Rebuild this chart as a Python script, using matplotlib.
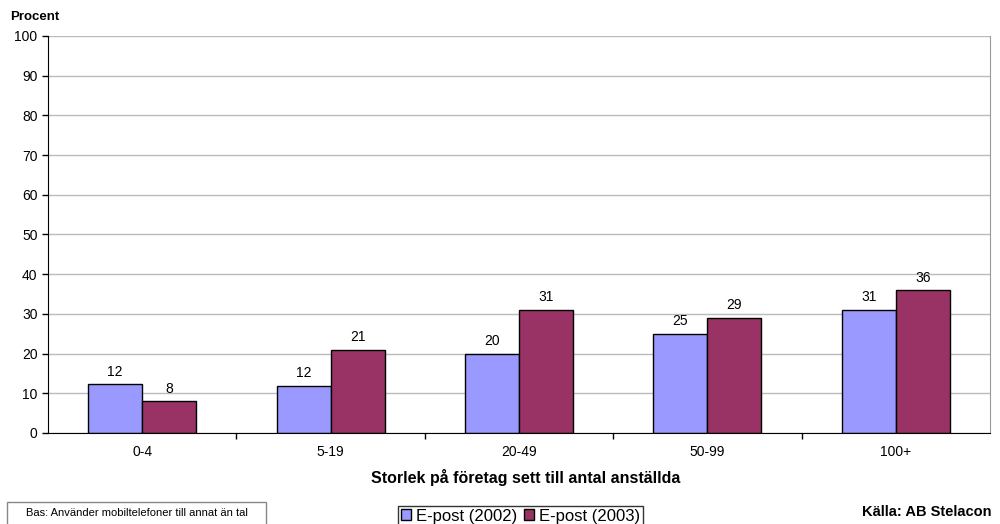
import matplotlib
matplotlib.use("Agg")
import matplotlib.pyplot as plt
import numpy as np
from matplotlib.patches import Rectangle

categories = ["0-4", "5-19", "20-49", "50-99", "100+"]
epost_2002 = [12.3, 11.9, 20, 25, 31]
epost_2003 = [8, 21, 31, 29, 36]
series_names = ["E-post (2002)", "E-post (2003)"]
yticks = list(range(0, 101, 10))

plt.rcParams['font.family'] = ['Liberation Sans', 'DejaVu Sans']

fig = plt.figure(figsize=(10, 5.24), dpi=100)
ax = fig.add_axes([0.048, 0.1737, 0.942, 0.7576])

x = np.arange(len(categories))
w = 0.287
b1 = ax.bar(x - w/2, epost_2002, w, color="#9999FF", edgecolor="black", linewidth=1, label=series_names[0], zorder=3)
b2 = ax.bar(x + w/2, epost_2003, w, color="#993366", edgecolor="black", linewidth=1, label=series_names[1], zorder=3)

for bars, vals in ((b1, epost_2002), (b2, epost_2003)):
    for r, v in zip(bars, vals):
        ax.annotate(f"{v:.0f}", (r.get_x() + r.get_width()/2, v), xytext=(0, 4),
                    textcoords="offset points", ha="center", va="bottom", fontsize=10)

ax.set_xlim(-0.5, len(categories) - 0.5)
ax.set_ylim(0, 100)
ax.set_yticks(yticks)
ax.tick_params(axis='y', labelsize=10, length=4, direction='out', width=1)
ax.set_xticks(x)
ax.set_xticklabels(categories, fontsize=10)
ax.tick_params(axis='x', which='major', length=0, pad=9)
ax.set_xticks(np.arange(0.5, len(categories) - 0.5, 1), minor=True)
ax.tick_params(axis='x', which='minor', length=4, direction='out', width=1)
ax.grid(axis='y', color="#BBBBBB", linewidth=1, zorder=0)
ax.spines['top'].set_visible(False)
ax.spines['right'].set_color("#999999")
ax.spines['left'].set_color("black")
ax.spines['bottom'].set_color("black")
ax.spines['bottom'].set_zorder(4)

ax.set_xlabel("Storlek på företag sett till antal anställda", fontsize=11.5, fontweight="bold", labelpad=7)
ax.xaxis.label.set_x(0.5074)

fig.text(0.010, 0.968, "Procent", fontsize=9.5, fontweight="bold", ha="left", va="center")

leg = fig.legend(handles=[b1, b2], labels=series_names, loc="lower center", bbox_to_anchor=(0.5205, -0.004),
                 ncol=2, fontsize=12, frameon=True, fancybox=False, edgecolor="black",
                 handlelength=0.6, handleheight=0.6, handletextpad=0.3, columnspacing=0.4,
                 borderpad=0.15, borderaxespad=0)
leg.get_frame().set_linewidth(1)

fig.patches.append(Rectangle((0.007, -0.01), 0.259, 0.052, transform=fig.transFigure,
                             facecolor="white", edgecolor="#888888", linewidth=1))
fig.text(0.137, 0.021, "Bas: Använder mobiltelefoner till annat än tal", fontsize=8, ha="center", va="center")
fig.text(0.991, 0.023, "Källa: AB Stelacon", fontsize=10.5, fontweight="bold", ha="right", va="center")

fig.savefig("out.png", dpi=100)
